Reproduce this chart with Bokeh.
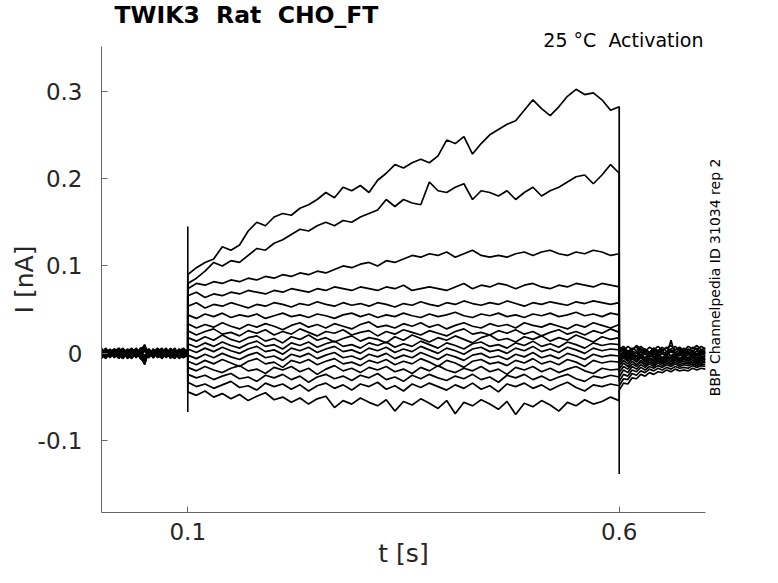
import numpy as np
from bokeh.plotting import figure
from bokeh.models import Range1d, FixedTicker, LinearAxis, Title
from bokeh.embed import file_html
from bokeh.resources import INLINE

T_ON, T_OFF, T_END = 0.1, 0.6, 0.7
X_TICKS = [0.1, 0.6]
Y_TICKS = [-0.1, 0, 0.1, 0.2, 0.3]
Y_TICK_LABELS = ["-0.1", "0", "0.1", "0.2", "0.3"]

# step-period currents (nA), read every 10 ms from 0.10 s to 0.60 s
step_a = [0.090,0.098,0.104,0.108,0.122,0.118,0.124,0.140,0.150,0.146,0.156,0.160,0.158,0.166,0.170,0.176,0.184,0.178,0.190,0.186,
          0.192,0.184,0.198,0.206,0.216,0.212,0.218,0.222,0.218,0.226,0.244,0.240,0.248,0.228,0.240,0.250,0.256,0.262,0.266,0.278,
          0.290,0.280,0.272,0.282,0.294,0.302,0.296,0.298,0.290,0.278,0.282]
step_b = [0.080,0.086,0.094,0.104,0.100,0.106,0.104,0.112,0.120,0.118,0.126,0.130,0.136,0.142,0.140,0.146,0.150,0.146,0.152,0.150,
          0.156,0.160,0.164,0.176,0.168,0.176,0.172,0.170,0.196,0.186,0.184,0.190,0.194,0.176,0.186,0.184,0.180,0.186,0.176,0.184,
          0.190,0.180,0.186,0.190,0.196,0.202,0.204,0.194,0.204,0.216,0.206]
step_c = [0.074,0.080,0.078,0.082,0.080,0.084,0.082,0.086,0.084,0.088,0.086,0.090,0.088,0.092,0.090,0.094,0.092,0.096,0.100,0.098,
          0.102,0.104,0.100,0.106,0.104,0.108,0.112,0.110,0.114,0.112,0.116,0.110,0.114,0.118,0.112,0.110,0.112,0.110,0.114,0.116,
          0.112,0.116,0.118,0.114,0.112,0.116,0.114,0.118,0.116,0.112,0.114]
step_d = [0.066,0.070,0.064,0.068,0.066,0.070,0.068,0.072,0.070,0.068,0.072,0.070,0.074,0.072,0.070,0.074,0.072,0.076,0.074,0.072,
          0.076,0.074,0.072,0.076,0.074,0.078,0.072,0.074,0.076,0.074,0.072,0.076,0.080,0.074,0.078,0.076,0.080,0.078,0.074,0.078,
          0.080,0.076,0.074,0.078,0.076,0.080,0.078,0.076,0.080,0.078,0.076]
step_e = [0.054,0.058,0.052,0.056,0.054,0.058,0.055,0.052,0.056,0.054,0.058,0.056,0.053,0.057,0.055,0.059,0.056,0.054,0.058,0.055,
          0.057,0.054,0.058,0.056,0.053,0.057,0.055,0.059,0.056,0.054,0.058,0.056,0.060,0.057,0.055,0.058,0.056,0.060,0.057,0.054,
          0.058,0.056,0.059,0.057,0.055,0.059,0.057,0.060,0.058,0.056,0.058]
step_f = [0.044,0.040,0.045,0.042,0.046,0.041,0.044,0.042,0.045,0.040,0.043,0.046,0.042,0.044,0.041,0.045,0.043,0.040,0.044,0.046,
          0.042,0.045,0.041,0.044,0.042,0.046,0.043,0.041,0.045,0.042,0.044,0.047,0.043,0.041,0.045,0.043,0.046,0.042,0.044,0.041,
          0.045,0.043,0.046,0.042,0.044,0.047,0.043,0.045,0.042,0.046,0.044]
step_g = [0.034,0.029,0.033,0.030,0.035,0.031,0.028,0.033,0.030,0.034,0.031,0.027,0.032,0.035,0.030,0.033,0.029,0.034,0.031,0.028,
          0.033,0.036,0.030,0.032,0.029,0.034,0.031,0.035,0.030,0.033,0.028,0.032,0.035,0.031,0.029,0.034,0.031,0.033,0.029,0.035,
          0.032,0.030,0.034,0.031,0.028,0.033,0.030,0.035,0.032,0.029,0.033]
step_h = [0.026,0.021,0.025,0.028,0.022,0.024,0.020,0.026,0.023,0.027,0.021,0.025,0.022,0.028,0.024,0.020,0.025,0.023,0.027,0.021,
          0.024,0.026,0.020,0.025,0.022,0.027,0.024,0.021,0.026,0.023,0.020,0.025,0.028,0.022,0.024,0.021,0.026,0.023,0.027,0.022,
          0.025,0.020,0.024,0.027,0.022,0.025,0.021,0.026,0.023,0.028,0.024]
step_i = [0.018,0.014,0.019,0.015,0.021,0.016,0.013,0.018,0.020,0.014,0.017,0.012,0.019,0.016,0.021,0.015,0.018,0.013,0.017,0.020,
          0.014,0.018,0.016,0.012,0.019,0.015,0.021,0.017,0.013,0.018,0.015,0.020,0.016,0.012,0.018,0.021,0.015,0.017,0.013,0.019,
          0.016,0.020,0.014,0.018,0.015,0.021,0.017,0.013,0.019,0.016,0.018]
step_j = [0.011,0.007,0.012,0.008,0.013,0.009,0.006,0.011,0.014,0.008,0.010,0.005,0.012,0.009,0.013,0.007,0.011,0.014,0.008,0.010,
          0.006,0.012,0.009,0.013,0.007,0.011,0.008,0.014,0.010,0.006,0.012,0.009,0.005,0.011,0.013,0.008,0.010,0.006,0.012,0.009,
          0.014,0.008,0.011,0.007,0.013,0.010,0.006,0.012,0.009,0.011,0.010]
step_k = [0.005,0.001,0.006,0.002,0.007,0.003,0.000,0.005,0.008,0.002,0.004,-0.001,0.006,0.003,0.007,0.001,0.005,0.008,0.002,0.004,
          0.000,0.006,0.003,0.007,0.001,0.005,0.002,0.008,0.004,0.000,0.006,0.003,-0.001,0.005,0.007,0.002,0.004,0.000,0.006,0.003,
          0.008,0.002,0.005,0.001,0.007,0.004,0.000,0.006,0.003,0.005,0.004]
step_l = [-0.002,-0.006,-0.001,-0.005,0.000,-0.004,-0.007,-0.002,0.001,-0.005,-0.003,-0.008,-0.001,-0.004,0.000,-0.006,-0.002,0.001,-0.005,-0.003,
          -0.007,-0.001,-0.004,0.000,-0.006,-0.002,-0.005,0.001,-0.003,-0.007,-0.001,-0.004,-0.008,-0.002,0.000,-0.005,-0.003,-0.007,-0.001,-0.004,
          0.001,-0.005,-0.002,-0.006,0.000,-0.003,-0.007,-0.001,-0.004,-0.002,-0.003]
step_m = [-0.009,-0.013,-0.008,-0.012,-0.007,-0.011,-0.015,-0.009,-0.006,-0.012,-0.010,-0.016,-0.008,-0.011,-0.007,-0.013,-0.009,-0.006,-0.012,-0.010,
          -0.014,-0.008,-0.011,-0.007,-0.013,-0.009,-0.012,-0.006,-0.010,-0.015,-0.008,-0.011,-0.016,-0.009,-0.007,-0.012,-0.010,-0.014,-0.008,-0.011,
          -0.006,-0.012,-0.009,-0.013,-0.007,-0.010,-0.015,-0.008,-0.011,-0.009,-0.010]
step_n = [-0.016,-0.020,-0.015,-0.019,-0.022,-0.017,-0.014,-0.020,-0.018,-0.023,-0.016,-0.019,-0.015,-0.021,-0.017,-0.024,-0.018,-0.014,-0.020,-0.017,
          -0.022,-0.016,-0.019,-0.015,-0.021,-0.018,-0.023,-0.016,-0.020,-0.014,-0.019,-0.022,-0.017,-0.020,-0.015,-0.021,-0.018,-0.024,-0.016,-0.019,
          -0.015,-0.021,-0.017,-0.022,-0.018,-0.015,-0.020,-0.023,-0.017,-0.019,-0.018]
step_o = [-0.024,-0.028,-0.025,-0.030,-0.026,-0.023,-0.029,-0.027,-0.032,-0.025,-0.028,-0.024,-0.030,-0.026,-0.033,-0.027,-0.024,-0.029,-0.026,-0.031,
          -0.025,-0.028,-0.023,-0.030,-0.027,-0.032,-0.025,-0.029,-0.024,-0.028,-0.031,-0.026,-0.029,-0.024,-0.030,-0.027,-0.033,-0.025,-0.028,-0.024,
          -0.030,-0.026,-0.031,-0.027,-0.024,-0.029,-0.032,-0.026,-0.028,-0.025,-0.027]
step_p = [-0.033,-0.038,-0.035,-0.040,-0.036,-0.032,-0.039,-0.037,-0.042,-0.034,-0.038,-0.035,-0.041,-0.036,-0.043,-0.037,-0.034,-0.040,-0.036,-0.042,
          -0.035,-0.038,-0.033,-0.041,-0.037,-0.043,-0.035,-0.039,-0.034,-0.038,-0.042,-0.036,-0.040,-0.034,-0.041,-0.037,-0.044,-0.035,-0.038,-0.034,
          -0.040,-0.036,-0.042,-0.037,-0.033,-0.039,-0.043,-0.036,-0.038,-0.035,-0.037]
step_q = [-0.044,-0.048,-0.043,-0.050,-0.046,-0.052,-0.047,-0.054,-0.049,-0.045,-0.053,-0.050,-0.056,-0.051,-0.058,-0.052,-0.049,-0.062,-0.054,-0.058,
          -0.051,-0.056,-0.060,-0.053,-0.066,-0.055,-0.059,-0.052,-0.057,-0.063,-0.054,-0.069,-0.056,-0.060,-0.053,-0.058,-0.064,-0.055,-0.070,-0.057,
          -0.061,-0.054,-0.059,-0.066,-0.056,-0.060,-0.053,-0.058,-0.055,-0.050,-0.054]

# holding period before the step (0.00 - 0.10 s, every 5 ms)
pre_a = [0.003,-0.002,0.004,-0.004,0.001,0.005,-0.003,0.002,-0.005,0.003,0.010,-0.002,0.004,-0.003,0.005,-0.001,0.003,-0.004,0.002,0.004,0.001]
pre_b = [-0.003,0.004,-0.001,0.005,-0.004,0.002,-0.005,0.003,0.000,-0.004,-0.012,0.004,-0.002,0.005,-0.003,0.002,-0.005,0.003,-0.001,-0.004,0.000]
pre_c = [0.005,0.000,-0.004,0.002,0.006,-0.002,0.003,-0.004,0.004,0.001,0.008,-0.004,0.001,0.006,-0.002,0.004,0.000,-0.003,0.005,-0.001,0.003]
pre_d = [-0.005,0.002,0.004,-0.003,-0.001,0.005,-0.004,0.000,0.003,-0.006,-0.010,0.002,-0.005,0.001,0.004,-0.004,0.002,0.005,-0.003,0.001,-0.002]
pre_e = [0.001,0.006,-0.003,-0.001,0.004,-0.005,0.002,0.006,-0.002,0.004,0.006,-0.003,0.005,-0.001,0.002,0.006,-0.004,0.001,0.004,-0.003,0.002]
pre_f = [-0.002,-0.006,0.002,0.004,-0.005,0.001,-0.002,-0.006,0.003,-0.002,-0.008,0.003,-0.004,0.002,-0.006,0.000,0.004,-0.002,-0.005,0.003,-0.001]
pre_g = [0.004,-0.001,0.001,-0.005,0.003,0.006,-0.001,0.004,-0.003,0.005,0.004,0.000,-0.003,0.005,0.001,-0.002,0.006,-0.001,0.003,0.005,0.002]
pre_h = [-0.004,0.001,-0.002,0.005,-0.003,-0.006,0.001,-0.004,0.004,-0.003,-0.006,0.001,0.003,-0.005,0.000,0.003,-0.006,0.002,-0.003,-0.005,-0.002]
pre_i = [0.000,0.005,0.002,-0.002,0.006,0.000,-0.004,0.003,0.005,-0.001,0.002,0.005,-0.002,0.003,0.006,-0.003,0.001,0.004,-0.004,0.002,0.004]
pre_j = [0.002,-0.005,0.000,0.003,-0.006,0.002,0.004,-0.005,-0.001,0.002,-0.002,-0.005,0.002,-0.003,-0.005,0.004,-0.002,-0.005,0.001,0.003,-0.004]
pre_k = [-0.006,0.001,0.004,0.000,0.002,-0.004,0.005,0.001,-0.003,0.006,0.007,-0.001,0.004,0.000,0.003,-0.005,0.002,0.006,-0.002,0.000,0.002]
pre_l = [0.006,-0.002,-0.004,0.001,-0.002,0.004,-0.006,-0.002,0.004,-0.005,-0.009,0.002,-0.005,0.001,-0.003,0.005,-0.003,-0.006,0.002,-0.002,-0.001]
pre_m = [0.001,0.003,-0.005,0.003,0.005,-0.003,0.002,-0.003,0.006,0.001,0.003,-0.004,0.000,0.005,-0.004,0.001,0.005,-0.002,0.003,0.006,0.000]
pre_n = [-0.002,-0.004,0.005,-0.002,-0.005,0.003,-0.001,0.005,-0.004,-0.002,-0.004,0.005,-0.001,-0.004,0.004,-0.002,-0.004,0.003,-0.006,-0.001,-0.001]
pre_o = [0.003,0.002,-0.001,-0.004,0.003,0.001,-0.005,0.004,0.002,-0.003,0.005,0.003,-0.005,0.002,0.000,-0.004,0.004,0.000,0.005,-0.003,0.003]
pre_p = [-0.003,-0.001,0.002,0.005,-0.002,-0.005,0.004,-0.001,-0.004,0.004,-0.007,-0.002,0.005,-0.003,0.005,0.002,-0.003,-0.004,0.001,0.004,-0.003]
pre_q = [0.000,0.002,-0.003,0.000,0.003,-0.001,0.001,-0.005,0.002,-0.002,-0.013,0.004,-0.002,0.001,-0.004,0.003,0.000,0.002,-0.003,0.000,0.001]

# after the step (0.60 - 0.70 s, every 5 ms)
post_a = [0.007,0.003,0.008,0.004,0.009,0.005,0.002,0.007,0.004,0.008,0.003,0.006,0.009,0.004,0.007,0.003,0.008,0.005,0.009,0.004,0.006]
post_b = [0.005,0.008,0.002,0.006,0.003,0.008,0.004,0.001,0.006,0.003,0.007,0.002,0.005,0.008,0.003,0.006,0.002,0.007,0.004,0.008,0.005]
post_c = [0.003,0.006,0.000,0.005,0.007,0.002,0.005,0.001,0.006,0.002,0.004,0.007,0.001,0.004,0.006,0.001,0.005,0.002,0.006,0.001,0.004]
post_d = [0.001,0.004,-0.002,0.003,0.000,0.005,0.001,-0.001,0.004,0.000,0.003,-0.002,0.004,0.001,-0.001,0.005,0.000,0.003,-0.001,0.004,0.001]
post_e = [0.000,-0.003,0.003,-0.001,0.002,-0.002,0.004,0.000,-0.002,0.003,-0.001,0.002,-0.003,0.001,0.004,-0.001,0.002,-0.002,0.003,0.000,0.002]
post_f = [-0.002,0.002,-0.004,0.001,-0.003,0.002,-0.001,-0.004,0.002,-0.002,0.001,-0.003,0.003,-0.001,-0.003,0.002,-0.002,0.001,-0.003,0.002,-0.001]
post_g = [-0.004,0.000,-0.005,-0.001,0.001,-0.004,0.000,-0.003,0.001,-0.004,0.000,-0.002,0.015,-0.003,0.002,-0.002,0.001,-0.004,0.000,-0.002,0.001]
post_h = [-0.006,-0.002,-0.006,-0.001,-0.004,-0.001,-0.005,0.000,-0.004,-0.001,-0.005,0.000,-0.003,-0.005,0.000,-0.004,-0.001,-0.003,-0.005,0.000,-0.003]
post_i = [-0.008,-0.003,-0.007,-0.002,-0.006,-0.003,-0.007,-0.002,-0.005,-0.001,-0.006,-0.003,-0.005,-0.001,-0.006,-0.002,-0.005,-0.001,-0.006,-0.003,-0.004]
post_j = [-0.011,-0.005,-0.009,-0.004,-0.008,-0.003,-0.008,-0.005,-0.007,-0.003,-0.008,-0.004,-0.006,-0.003,-0.007,-0.004,-0.006,-0.002,-0.007,-0.004,-0.006]
post_k = [-0.014,-0.008,-0.012,-0.006,-0.010,-0.005,-0.010,-0.006,-0.009,-0.005,-0.009,-0.005,-0.008,-0.004,-0.009,-0.005,-0.008,-0.004,-0.008,-0.005,-0.007]
post_l = [-0.018,-0.011,-0.015,-0.009,-0.013,-0.008,-0.012,-0.008,-0.011,-0.007,-0.011,-0.007,-0.010,-0.006,-0.010,-0.007,-0.009,-0.006,-0.010,-0.006,-0.008]
post_m = [-0.022,-0.015,-0.018,-0.012,-0.015,-0.010,-0.014,-0.010,-0.013,-0.009,-0.012,-0.009,-0.012,-0.008,-0.011,-0.009,-0.011,-0.008,-0.011,-0.008,-0.010]
post_n = [-0.027,-0.019,-0.022,-0.015,-0.018,-0.013,-0.016,-0.012,-0.015,-0.011,-0.014,-0.011,-0.013,-0.010,-0.013,-0.011,-0.012,-0.010,-0.012,-0.010,-0.011]
post_o = [-0.032,-0.024,-0.026,-0.019,-0.021,-0.016,-0.019,-0.015,-0.017,-0.014,-0.016,-0.013,-0.015,-0.012,-0.015,-0.013,-0.014,-0.012,-0.014,-0.012,-0.013]
post_p = [-0.037,-0.029,-0.030,-0.023,-0.025,-0.020,-0.022,-0.018,-0.020,-0.017,-0.019,-0.016,-0.018,-0.015,-0.017,-0.016,-0.017,-0.014,-0.016,-0.014,-0.015]
post_q = [-0.042,-0.034,-0.035,-0.028,-0.029,-0.024,-0.026,-0.022,-0.024,-0.021,-0.022,-0.019,-0.021,-0.018,-0.020,-0.019,-0.020,-0.017,-0.019,-0.017,-0.018]

STEPS = [step_a, step_b, step_c, step_d, step_e, step_f, step_g, step_h, step_i,
         step_j, step_k, step_l, step_m, step_n, step_o, step_p, step_q]
PRES = [pre_a, pre_b, pre_c, pre_d, pre_e, pre_f, pre_g, pre_h, pre_i,
        pre_j, pre_k, pre_l, pre_m, pre_n, pre_o, pre_p, pre_q]
POSTS = [post_a, post_b, post_c, post_d, post_e, post_f, post_g, post_h, post_i,
         post_j, post_k, post_l, post_m, post_n, post_o, post_p, post_q]

# capacitive transients at step onset / offset (nA)
ON_SPIKE = [-0.067, 0.145]
OFF_SPIKE = [-0.138, 0.0]

TEXT = "#262626"
FONT = "DejaVu Sans"
NOTE_TEXT = "BBP Channelpedia ID 31034 rep 2"
NOTE_ANCHOR_Y = -0.0489   # where the rotated note starts (y units)

p = figure(width=770, height=575, x_range=Range1d(0, 0.7), y_range=Range1d(-0.182, 0.351),
           output_backend="svg", toolbar_location=None,
           min_border_left=101, min_border_right=65, min_border_top=43, min_border_bottom=63)

xs, ys = [], []
for pre, st, post in zip(PRES, STEPS, POSTS):
    t = np.concatenate([np.linspace(0, T_ON, len(pre)),
                        np.linspace(T_ON, T_OFF, len(st)),
                        np.linspace(T_OFF, T_END, len(post))])
    xs.append(t)
    ys.append(np.concatenate([pre, st, post]))
p.multi_line(xs, ys, line_color="black", line_width=1.7)
p.segment(x0=[T_ON, T_OFF], y0=[ON_SPIKE[0], OFF_SPIKE[0]],
          x1=[T_ON, T_OFF], y1=[ON_SPIKE[1], OFF_SPIKE[1]],
          line_color="black", line_width=1.6)

p.xgrid.visible = False
p.ygrid.visible = False
p.outline_line_color = None

p.xaxis.ticker = FixedTicker(ticks=X_TICKS)
p.yaxis.ticker = FixedTicker(ticks=Y_TICKS)
p.yaxis.major_label_overrides = {t: s for t, s in zip(Y_TICKS, Y_TICK_LABELS)}
p.xaxis.major_label_overrides = {0.1: "0.1", 0.6: "0.6"}
p.xaxis.axis_label = "t [s]"
p.yaxis.axis_label = "I [nA]"
for ax in (p.xaxis, p.yaxis):
    ax.axis_line_color = "#666666"
    ax.major_tick_line_color = "#666666"
    ax.major_tick_in = 6
    ax.major_tick_out = 0
    ax.minor_tick_line_color = None
    ax.major_label_text_font = FONT
    ax.major_label_text_font_size = "23px"
    ax.major_label_text_color = TEXT
    ax.axis_label_text_font = FONT
    ax.axis_label_text_font_size = "25px"
    ax.axis_label_text_font_style = "normal"
    ax.axis_label_text_color = TEXT
p.xaxis.major_label_standoff = 10
p.xaxis.axis_label_standoff = -4
p.yaxis.major_label_standoff = 19
p.yaxis.axis_label_standoff = -4

# rotated id note on the right, drawn as the single tick label of a bare right-hand axis
rax = LinearAxis(ticker=FixedTicker(ticks=[NOTE_ANCHOR_Y]),
                 major_label_overrides={NOTE_ANCHOR_Y: NOTE_TEXT},
                 major_label_orientation=np.pi / 2,
                 major_label_text_font=FONT, major_label_text_font_size="14px",
                 major_label_text_color="black", major_label_standoff=4,
                 axis_line_color=None, major_tick_line_color=None,
                 minor_tick_line_color=None)
p.add_layout(rax, "right")

# condition text sits just above the frame, right-aligned (nearest panel to the frame)
p.add_layout(Title(text="25 °C\u00a0 Activation", align="right", offset=2, standoff=-8,
                   text_font=FONT, text_font_size="19px", text_font_style="normal",
                   text_color="black"), "above")

p.title.text = "TWIK3\u00a0 Rat\u00a0 CHO_FT"
p.title.text_font = FONT
p.title.text_font_size = "23.5px"
p.title.text_font_style = "bold"
p.title.text_color = "black"
p.title.align = "left"
p.title.offset = 13
p.title.vertical_align = "top"
p.title.standoff = 0

open("out.html", "w").write(file_html(p, INLINE))
